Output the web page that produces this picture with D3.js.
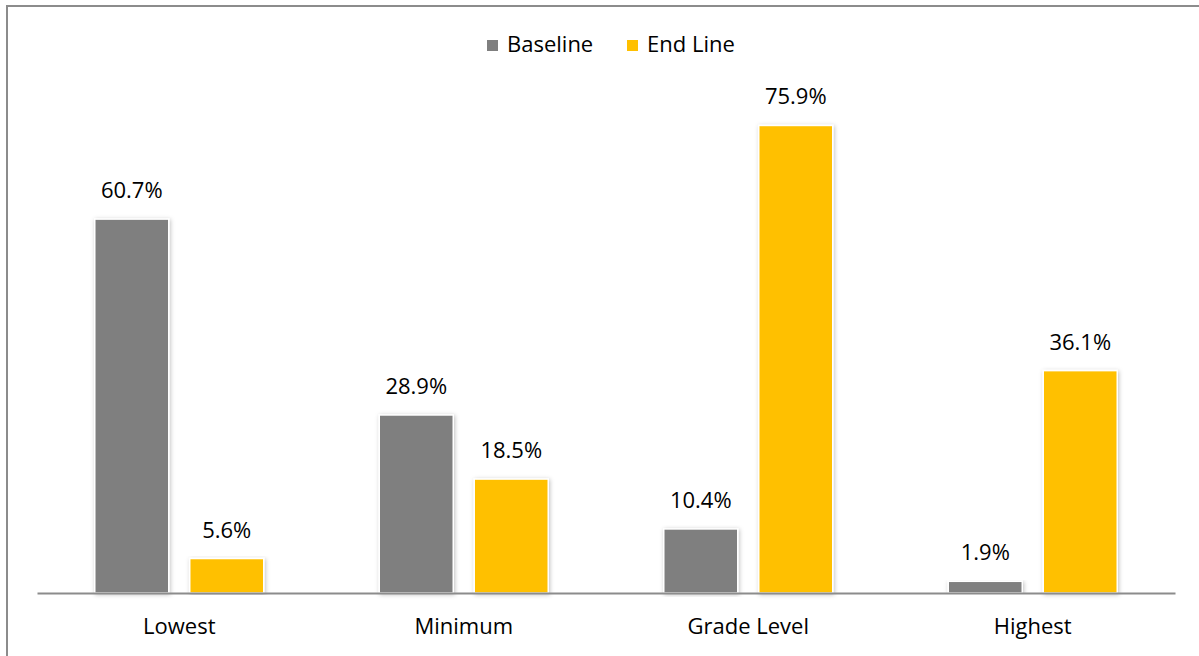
<!DOCTYPE html>
<html>
<head>
<meta charset="utf-8">
<script src="https://cdn.jsdelivr.net/npm/d3@7/dist/d3.min.js"></script>
<style>
  body { margin: 0; background: #fff; }
  svg { display: block; font-family: "Open Sans", "Noto Sans", sans-serif; }
</style>
</head>
<body>
<svg width="1199" height="656"></svg>
<script>
// chart data
var categories = ["Lowest", "Minimum", "Grade Level", "Highest"];
var seriesNames = ["Baseline", "End Line"];
var baseline = [60.7, 28.9, 10.4, 1.9];
var endLine = [5.6, 18.5, 75.9, 36.1];
var colors = ["#7f7f7f", "#ffc000"];

var svg = d3.select("svg"),
    margin = {left: 37, right: 24},
    width = +svg.attr("width"),
    axisY = 593;

// outer frame (runs off the bottom/right of the picture)
svg.append("rect")
    .attr("x", 7).attr("y", 6)
    .attr("width", 1210).attr("height", 700)
    .attr("fill", "none")
    .attr("stroke", "#8c8c8c")
    .attr("stroke-width", 2);

var defs = svg.append("defs");
var f = defs.append("filter").attr("id", "shadow")
    .attr("x", "-20%").attr("y", "-5%").attr("width", "140%").attr("height", "110%");
f.append("feDropShadow")
    .attr("dx", 1).attr("dy", 1).attr("stdDeviation", 2)
    .attr("flood-color", "#000").attr("flood-opacity", 0.25);

var x0 = d3.scaleBand()
    .domain(categories)
    .range([margin.left, width - margin.right]);

var x1 = d3.scaleBand()
    .domain(seriesNames)
    .range([0, x0.bandwidth()])
    .paddingInner(0.221).paddingOuter(0.608);

var y = d3.scaleLinear()
    .domain([0, 80])
    .range([axisY, axisY - 80 * 6.16]);

var rows = categories.map(function(c, i) {
  return {cat: c, values: [
    {name: seriesNames[0], value: baseline[i], color: colors[0]},
    {name: seriesNames[1], value: endLine[i], color: colors[1]}
  ]};
});

var group = svg.selectAll(".grp")
    .data(rows)
    .enter().append("g")
      .attr("class", "grp")
      .attr("transform", function(d) { return "translate(" + x0(d.cat) + ",0)"; });

group.selectAll("rect")
    .data(function(d) { return d.values; })
    .enter().append("rect")
      .attr("x", function(d) { return x1(d.name); })
      .attr("y", function(d) { return y(d.value); })
      .attr("width", x1.bandwidth())
      .attr("height", function(d) { return axisY - y(d.value); })
      .attr("fill", function(d) { return d.color; })
      .attr("stroke", "#fff")
      .attr("stroke-width", 1.5)
      .attr("filter", "url(#shadow)");

group.selectAll("text.val")
    .data(function(d) { return d.values; })
    .enter().append("text")
      .attr("class", "val")
      .attr("x", function(d) { return x1(d.name) + x1.bandwidth() / 2; })
      .attr("y", function(d) { return y(d.value) - 21; })
      .attr("text-anchor", "middle")
      .style("font-size", "22px")
      .attr("fill", "#000")
      .text(function(d) { return d.value.toFixed(1) + "%"; });

// category axis
var xAxis = svg.append("g")
    .attr("transform", "translate(0," + axisY + ")")
    .call(d3.axisBottom(x0).tickSize(0).tickPadding(25));
xAxis.select(".domain").attr("stroke", "#8c8c8c").attr("stroke-width", 2);
xAxis.selectAll("text")
    .style("font-size", "22px")
    .style("font-family", "'Open Sans', 'Noto Sans', sans-serif")
    .attr("fill", "#000");

// legend
var legend = svg.append("g").attr("transform", "translate(487,40)");
var li = legend.selectAll("g")
    .data(seriesNames)
    .enter().append("g")
      .attr("transform", function(d, i) { return "translate(" + (i * 140) + ",0)"; });
li.append("rect")
    .attr("width", 11).attr("height", 11)
    .attr("fill", function(d, i) { return colors[i]; });
li.append("text")
    .attr("x", 20).attr("y", 12)
    .style("font-size", "22px")
    .attr("fill", "#000")
    .text(function(d) { return d; });
</script>
</body>
</html>
